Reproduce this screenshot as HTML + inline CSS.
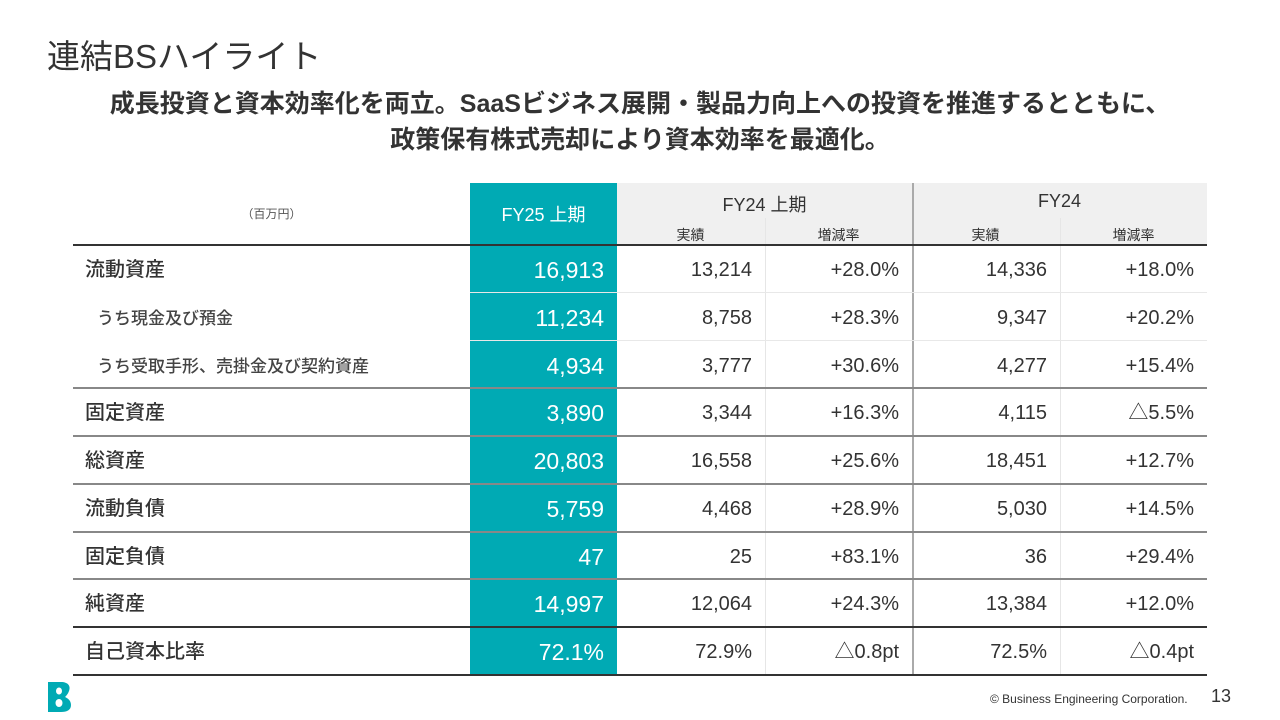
<!DOCTYPE html>
<html><head><meta charset="utf-8"><style>
body{margin:0;width:1280px;height:720px;background:#fff;position:relative;overflow:hidden;font-family:"Liberation Sans","Noto Sans CJK JP",sans-serif;color:#333}
.a{position:absolute;white-space:nowrap}
</style></head><body>
<div class="a" style="left:47px;top:30px;font-size:33px;color:#333">連結BSハイライト</div>
<div class="a" style="left:0;width:1280px;top:86px;text-align:center;font-size:25px;font-weight:bold;line-height:36px;color:#333">成長投資と資本効率化を両立。SaaSビジネス展開・製品力向上への投資を推進するとともに、<br>政策保有株式売却により資本効率を最適化。</div>
<div id="tbl"></div>
<svg class="a" style="left:48px;top:682px" width="24" height="30" viewBox="0 0 24 30"><path d="M0 0H13C20 0 23 4 21 9C20 12 18 14 17 15C19 16 23 18 23 23C23 28 19 30 13 30H0Z" fill="#00aab4"/><ellipse cx="11" cy="9" rx="3" ry="3.5" fill="#fff"/><ellipse cx="11" cy="21" rx="3.5" ry="4" fill="#fff"/></svg>
<div class="a" style="left:990px;top:692px;font-size:12px;color:#333">© Business Engineering Corporation.</div>
<div class="a" style="left:1211px;top:686px;font-size:18px;color:#333">13</div>
<script>
const labels=["流動資産","うち現金及び預金","うち受取手形、売掛金及び契約資産","固定資産","総資産","流動負債","固定負債","純資産","自己資本比率"];
const fy25=["16,913","11,234","4,934","3,890","20,803","5,759","47","14,997","72.1%"];
const fy24h=["13,214","8,758","3,777","3,344","16,558","4,468","25","12,064","72.9%"];
const fy24hRate=["+28.0%","+28.3%","+30.6%","+16.3%","+25.6%","+28.9%","+83.1%","+24.3%","△0.8pt"];
const fy24=["14,336","9,347","4,277","4,115","18,451","5,030","36","13,384","72.5%"];
const fy24Rate=["+18.0%","+20.2%","+15.4%","△5.5%","+12.7%","+14.5%","+29.4%","+12.0%","△0.4pt"];
const sub=[false,true,true,false,false,false,false,false,false];
const T=document.getElementById('tbl');
function box(name,l,t,w,h,css,txt){const d=document.createElement('div');d.className='a';


d.style.cssText=`left:${l}px;top:${t}px;width:${w}px;height:${h}px;`+css;if(txt!==undefined)d.textContent=txt;T.appendChild(d);return d;}
const X=[73,470,617,765,912,1060,1207],top0=245,rh=47.75;
box('header-bg',617,183,590,62,'background:#f0f0f0');
box('fy25-column-bg',470,183,147,491,'background:#00aab4');
box('unit-label',73,205,397,20,'font-size:12px;text-align:center;color:#555','（百万円）');
box('fy25-header',470,184,147,62,'color:#fff;font-size:18px;text-align:center;line-height:62px','FY25 上期');
box('fy24h-header',617,191,295,24,'font-size:18px;text-align:center','FY24 上期');
box('fy24-header',912,191,295,24,'font-size:18px;text-align:center','FY24');
[['actual',617],['rate',765],['actual',912],['rate',1060]].forEach((c,i)=>box('subheader-'+c[0],c[1],225,147,20,'font-size:14px;text-align:center',i%2?'増減率':'実績'));
box('vline',765,218,1,456,'background:#e6e6e6');
box('vline',1060,218,1,456,'background:#e6e6e6');
box('vline',912,183,2,491,'background:#aaa');
box('header-rule',73,244,1134,2,'background:#333');
for(let i=0;i<labels.length;i++){const t=top0+i*rh+2;
box('row-label',sub[i]?97:85,t,380,rh,`line-height:${rh}px;font-size:${sub[i]?17:20}px;font-weight:500;color:${sub[i]?'#444':'#333'}`,labels[i]);
const vals=[fy25[i],fy24h[i],fy24hRate[i],fy24[i],fy24Rate[i]];
vals.forEach((v,j)=>box('cell-value',X[j+1],t,X[j+2]-X[j+1]-13,rh,`line-height:${rh}px;text-align:right;font-size:${j==0?23:20}px;${j==0?'font-weight:500;':''}color:${j==0?'#fff':'#333'}`,v));
const b=top0+(i+1)*rh;let c,h=2;
if(i==0||i==1){c='#e8e8e8';h=1}else if(i==7||i==8){c='#333'}else{c='#888'}
box('row-rule',i<2?470:73,Math.round(b)-1,i<2?737:1134,h,'background:'+c);
}
</script>
</body></html>
